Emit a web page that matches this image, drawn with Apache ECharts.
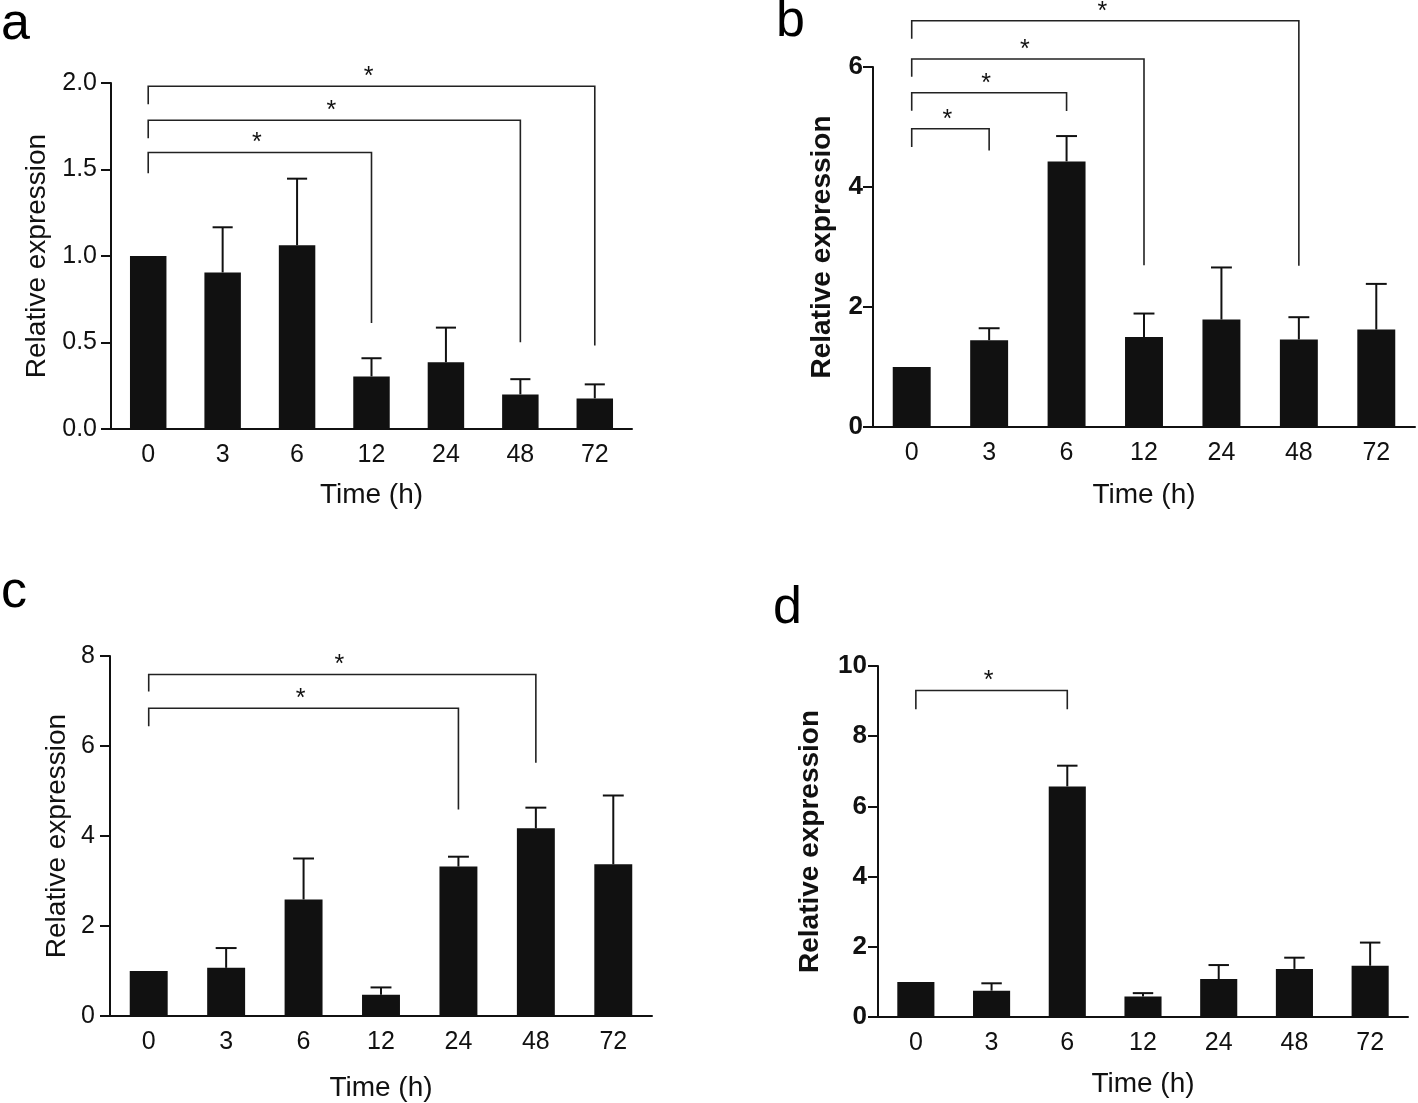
<!DOCTYPE html>
<html>
<head>
<meta charset="utf-8">
<script src="https://cdn.jsdelivr.net/npm/echarts@6/dist/echarts.min.js"></script>
<style>
  html, body { margin: 0; padding: 0; background: #fff; }
  #chart { width: 1418px; height: 1103px; }
</style>
</head>
<body>
<div id="chart"></div>
<script>
// time points (h)
const times = ['0', '3', '6', '12', '24', '48', '72'];

// panel a
const meanA = [1.0, 0.905, 1.062, 0.304, 0.386, 0.2, 0.177];
const errA = [0, 0.261, 0.385, 0.105, 0.2, 0.088, 0.081];
// [from, to, bracket level, left leg end, right leg end]
const sigA = [[0, 6, 1.981, 1.877, 0.482], [0, 5, 1.785, 1.68, 0.501], [0, 3, 1.598, 1.478, 0.613]];
const ticksA = [0, 2, 0.5];

// panel b
const meanB = [1.0, 1.446, 4.427, 1.501, 1.791, 1.458, 1.625];
const errB = [0, 0.2, 0.422, 0.39, 0.868, 0.372, 0.76];
const sigB = [[0, 5, 6.77, 6.47, 2.686], [0, 3, 6.133, 5.838, 2.697], [0, 2, 5.571, 5.271, 5.266], [0, 1, 4.971, 4.666, 4.61]];
const ticksB = [0, 6, 2];

// panel c
const meanC = [1.0, 1.07, 2.59, 0.475, 3.32, 4.17, 3.37];
const errC = [0, 0.44, 0.91, 0.16, 0.22, 0.46, 1.53];
const sigC = [[0, 5, 7.59, 7.21, 5.63], [0, 4, 6.84, 6.44, 4.59]];
const ticksC = [0, 8, 2];

// panel d
const meanD = [1.0, 0.75, 6.57, 0.585, 1.08, 1.37, 1.46];
const errD = [0, 0.21, 0.59, 0.095, 0.40, 0.32, 0.66];
const sigD = [[0, 2, 9.3, 8.77, 8.77]];
const ticksD = [0, 10, 2];

const FONT = 'Liberation Sans, Arial, Helvetica, sans-serif';
const INK = '#111';

// grid placement and text styling per panel
const panels = [
  { mean: meanA, err: errA, sig: sigA, ticks: ticksA, decimals: 1, bold: false,
    grid: { left: 111, right: 786, top: 83, bottom: 674 }, yGap: 60, xGap: 52, yMargin: 14 },
  { mean: meanB, err: errB, sig: sigB, ticks: ticksB, decimals: 0, bold: true,
    grid: { left: 873, right: 3, top: 67, bottom: 676 }, yGap: 37, xGap: 54, yMargin: 10 },
  { mean: meanC, err: errC, sig: sigC, ticks: ticksC, decimals: 0, bold: false,
    grid: { left: 110, right: 766, top: 656, bottom: 86 }, yGap: 39, xGap: 58, yMargin: 15 },
  { mean: meanD, err: errD, sig: sigD, ticks: ticksD, decimals: 0, bold: true,
    grid: { left: 878, right: 10, top: 666, bottom: 86 }, yGap: 54, xGap: 53, yMargin: 11 }
];

function renderErr(params, api) {
  const i = api.value(0);
  const m = api.value(1);
  const e = api.value(2);
  if (!(e > 0)) return null;
  const base = api.coord([i, m]);
  const top = api.coord([i, m + e]);
  const half = api.size([1, 0])[0] * 0.135;
  return {
    type: 'group',
    children: [
      { type: 'line', shape: { x1: base[0], y1: base[1], x2: top[0], y2: top[1] },
        style: { stroke: INK, lineWidth: 2 } },
      { type: 'line', shape: { x1: top[0] - half, y1: top[1], x2: top[0] + half, y2: top[1] },
        style: { stroke: INK, lineWidth: 2 } }
    ]
  };
}

function renderSig(params, api) {
  const a = api.value(0), b = api.value(1);
  const lvl = api.value(2), lo1 = api.value(3), lo2 = api.value(4);
  const p1 = api.coord([a, lvl]);
  const p2 = api.coord([b, lvl]);
  const q1 = api.coord([a, lo1]);
  const q2 = api.coord([b, lo2]);
  const st = { stroke: '#222', lineWidth: 1.6, fill: null };
  return {
    type: 'group',
    children: [
      { type: 'polyline', shape: { points: [q1, p1, p2, q2] }, style: st },
      { type: 'text', x: (p1[0] + p2[0]) / 2 - 3, y: p1[1] - 9,
        style: { text: '*', font: '25px ' + FONT, fill: '#111', align: 'center', verticalAlign: 'middle' } }
    ]
  };
}

const grid = [], xAxis = [], yAxis = [], series = [];
panels.forEach((p, k) => {
  grid.push(p.grid);
  xAxis.push({
    type: 'category', gridIndex: k, data: times,
    name: 'Time (h)', nameLocation: 'middle', nameGap: p.xGap,
    nameTextStyle: { fontFamily: FONT, fontSize: 28, color: INK },
    axisLine: { lineStyle: { color: INK, width: 2 } },
    axisTick: { alignWithLabel: true, length: 10, lineStyle: { color: INK, width: 2 } },
    axisLabel: { fontFamily: FONT, fontSize: 25, color: INK, margin: 14 }
  });
  yAxis.push({
    type: 'value', gridIndex: k, min: p.ticks[0], max: p.ticks[1], interval: p.ticks[2],
    name: 'Relative expression', nameLocation: 'middle', nameGap: p.yGap,
    nameTextStyle: { fontFamily: FONT, fontSize: 28, color: INK, fontWeight: p.bold ? 'bold' : 'normal' },
    splitLine: { show: false },
    axisLine: { show: true, lineStyle: { color: INK, width: 2 } },
    axisTick: { show: true, length: 10, lineStyle: { color: INK, width: 2 } },
    axisLabel: {
      fontFamily: FONT, fontSize: p.bold ? 26 : 25, color: INK, margin: p.yMargin,
      fontWeight: p.bold ? 'bold' : 'normal',
      formatter: v => v.toFixed(p.decimals)
    }
  });
  series.push({
    type: 'bar', xAxisIndex: k, yAxisIndex: k, data: p.mean, barWidth: '49%',
    itemStyle: { color: INK }, silent: true
  });
  series.push({
    type: 'custom', xAxisIndex: k, yAxisIndex: k, renderItem: renderErr,
    encode: { x: 0, y: 1 },
    data: p.mean.map((m, i) => [i, m, p.err[i]]), silent: true, z: 3
  });
  series.push({
    type: 'custom', xAxisIndex: k, yAxisIndex: k, renderItem: renderSig,
    encode: { x: [0, 1], y: [2, 3, 4] }, clip: false,
    data: p.sig, silent: true, z: 4
  });
});

const letters = [['a', 1, 25], ['b', 776, 22], ['c', 1, 593], ['d', 773, 609]];

const chart = echarts.init(document.getElementById('chart'), null, { renderer: 'canvas' });
chart.setOption({
  animation: false,
  backgroundColor: '#fff',
  grid, xAxis, yAxis, series,
  graphic: letters.map(l => ({
    type: 'text', left: l[1], top: l[2] - 26,
    style: { text: l[0], font: '52px ' + FONT, fill: '#000' }
  }))
});
</script>
</body>
</html>
